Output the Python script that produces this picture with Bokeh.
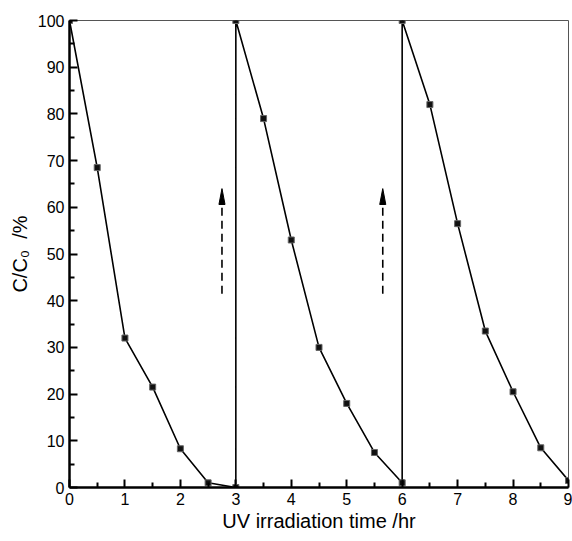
from bokeh.plotting import figure
from bokeh.models import Range1d, FixedTicker, ColumnDataSource
from bokeh.embed import file_html
from bokeh.resources import INLINE

# data
time_hr = [0, 0.5, 1, 1.5, 2, 2.5, 3, 3, 3.5, 4, 4.5, 5, 5.5, 6, 6, 6.5, 7, 7.5, 8, 8.5, 9]
c_ratio = [100, 68.5, 32, 21.5, 8.3, 1, 0, 100, 79, 53, 30, 18, 7.5, 1, 100, 82, 56.5, 33.5, 20.5, 8.5, 1.5]
arrow_x = [2.75, 5.65]
arrow_y0 = [41.5, 41.5]
arrow_y1 = [64, 64]
x_ticks = [0, 1, 2, 3, 4, 5, 6, 7, 8, 9]
y_ticks = [0, 10, 20, 30, 40, 50, 60, 70, 80, 90, 100]

p = figure(width=572, height=541, output_backend="svg", toolbar_location=None,
           x_range=Range1d(0, 9), y_range=Range1d(0, 100),
           min_border_left=69, min_border_right=4, min_border_top=20, min_border_bottom=54)
p.grid.visible = False
p.outline_line_color = "#555555"
p.outline_line_width = 1
p.background_fill_color = "white"
p.border_fill_color = "white"

font = "Liberation Sans"
for ax in (p.xaxis[0], p.yaxis[0]):
    ax.axis_line_width = 2.5
    ax.axis_line_color = "black"
    ax.major_tick_in = 8
    ax.major_tick_out = 0
    ax.minor_tick_in = 5
    ax.minor_tick_out = 0
    ax.major_tick_line_width = 2
    ax.minor_tick_line_width = 2
    ax.major_tick_line_color = "black"
    ax.minor_tick_line_color = "black"
    ax.major_label_text_font = font
    ax.major_label_text_font_size = "16px"
    ax.major_label_text_color = "black"
    ax.axis_label_text_font = font
    ax.axis_label_text_font_style = "normal"
    ax.axis_label_text_font_size = "20px"
    ax.axis_label_text_color = "black"

p.xaxis.ticker = FixedTicker(ticks=x_ticks, minor_ticks=[t + 0.5 for t in x_ticks[:-1]])
p.yaxis.ticker = FixedTicker(ticks=y_ticks, minor_ticks=[t + 5 for t in y_ticks[:-1]])
p.xaxis.axis_label = "UV irradiation time /hr"
p.yaxis.axis_label = "C/C\u2080\u00a0\u00a0/%"
p.xaxis.major_label_standoff = 5
p.yaxis.major_label_standoff = 5
p.xaxis.axis_label_standoff = 2
p.yaxis.axis_label_standoff = 4

src = ColumnDataSource(dict(x=time_hr, y=c_ratio))
p.line("x", "y", source=src, line_color="black", line_width=1.6)
p.scatter("x", "y", source=src, marker="square", size=6, fill_color="#111111",
          line_color="#666666", line_width=1)

# dashed arrows: shaft plus a narrow filled head
head_len = 3.4
head_half_w = 0.055
shaft = ColumnDataSource(dict(x=arrow_x, y0=arrow_y0, y1=[y - head_len for y in arrow_y1]))
p.segment("x", "y0", "x", "y1", source=shaft, line_color="black", line_width=1.6,
          line_dash="8 5")
heads = ColumnDataSource(dict(
    xs=[[x - head_half_w, x, x + head_half_w] for x in arrow_x],
    ys=[[y - head_len, y, y - head_len] for y in arrow_y1]))
p.patches("xs", "ys", source=heads, fill_color="black", line_color="black", line_width=1)

open("out.html", "w").write(file_html(p, INLINE))
